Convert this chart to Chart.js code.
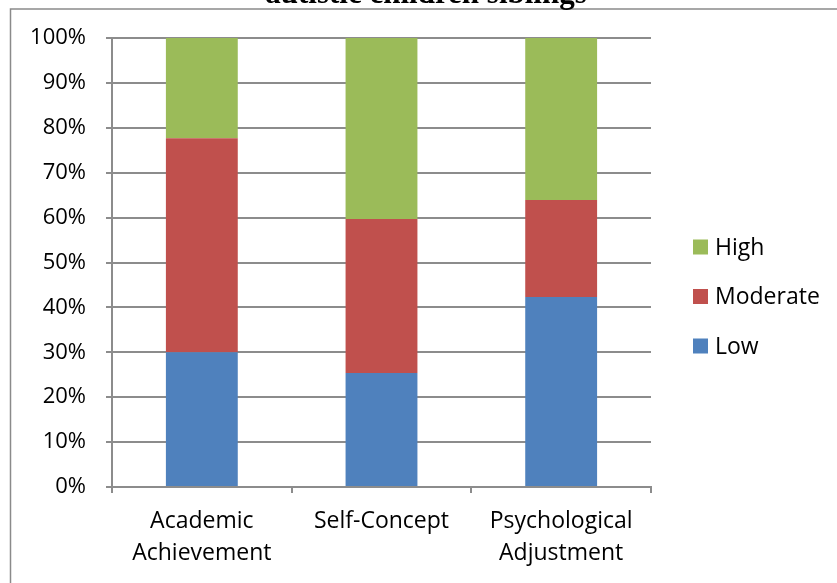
<!DOCTYPE html>
<html>
<head>
<meta charset="utf-8">
<script src="https://cdn.jsdelivr.net/npm/chart.js@4.4.0/dist/chart.umd.min.js"></script>
<style>
  html, body { margin: 0; padding: 0; background: #fff; }
  #wrap { width: 837px; height: 583px; }
</style>
</head>
<body>
<div id="wrap"><canvas id="chart" width="837" height="583"></canvas></div>
<script>
// ===== DATA =====
const categories   = [['Academic', 'Achievement'], 'Self-Concept', ['Psychological', 'Adjustment']];
const seriesNames  = ['Low', 'Moderate', 'High'];
const lowVals      = [30.0, 25.4, 42.3];
const moderateVals = [47.7, 34.3, 21.6];
const highVals     = [22.3, 40.3, 36.1];
const yTickMax     = 100;
const yTickStep    = 10;
const titleText    = 'autistic children siblings';

const COLORS = ['#4F81BD', '#C0504D', '#9BBB59'];
const GRID = '#8c8c8c';
const FONT = "'Open Sans', sans-serif";

// frame + clipped title from the source document
const framePlugin = {
  id: 'frame',
  beforeDraw(chart) {
    const ctx = chart.ctx;
    ctx.save();
    ctx.fillStyle = '#fff';
    ctx.fillRect(0, 0, chart.width, chart.height);
    ctx.strokeStyle = '#8a8a8a';
    ctx.lineWidth = 1.5;
    ctx.beginPath();
    ctx.moveTo(10.5, chart.height);
    ctx.lineTo(10.5, 9);
    ctx.lineTo(chart.width, 9);
    ctx.stroke();
    ctx.fillStyle = '#000';
    ctx.font = 'bold 31px "Liberation Serif", serif';
    ctx.textAlign = 'center';
    ctx.textBaseline = 'alphabetic';
    ctx.fillText(titleText, 426, 2.5);
    ctx.restore();
  }
};

// legend on the right, top to bottom High / Moderate / Low
const legendPlugin = {
  id: 'sideLegend',
  afterDraw(chart) {
    const ctx = chart.ctx;
    const ds = chart.data.datasets.slice().reverse();
    ctx.save();
    ctx.font = '23px ' + FONT;
    ctx.textAlign = 'left';
    ctx.textBaseline = 'middle';
    ds.forEach((d, i) => {
      const y = 247 + i * 49.5;
      ctx.fillStyle = d.backgroundColor;
      ctx.fillRect(693, y - 7.5, 15, 15);
      ctx.fillStyle = '#000';
      ctx.fillText(d.label, 715, y + 1);
    });
    ctx.restore();
  }
};

new Chart(document.getElementById('chart'), {
  type: 'bar',
  data: {
    labels: categories,
    datasets: [
      { label: seriesNames[0], data: lowVals,      backgroundColor: COLORS[0] },
      { label: seriesNames[1], data: moderateVals, backgroundColor: COLORS[1] },
      { label: seriesNames[2], data: highVals,     backgroundColor: COLORS[2] },
    ]
  },
  options: {
    responsive: false,
    animation: false,
    devicePixelRatio: 1,
    layout: { padding: { top: 38, right: 186, left: 0, bottom: 0 } },
    datasets: { bar: { barPercentage: 0.4, categoryPercentage: 1.0, borderWidth: 0 } },
    plugins: { legend: { display: false }, tooltip: { enabled: false }, title: { display: false } },
    scales: {
      x: {
        stacked: true,
        grid: { display: true, drawOnChartArea: false, offset: true, tickLength: 6, color: GRID, lineWidth: 2 },
        border: { color: GRID, width: 2 },
        ticks: { color: '#000', font: { family: FONT, size: 23, lineHeight: 1.4 }, padding: 12, maxRotation: 0, autoSkip: false },
        afterFit: s => { s.height = 96; }
      },
      y: {
        stacked: true,
        min: 0,
        max: yTickMax,
        grid: { color: GRID, lineWidth: 2, tickLength: 6 },
        border: { color: GRID, width: 2 },
        ticks: { stepSize: yTickStep, color: '#000', font: { family: FONT, size: 22 }, padding: 20, callback: v => v + '%' },
        afterFit: s => { s.width = 112; }
      }
    }
  },
  plugins: [framePlugin, legendPlugin]
});
</script>
</body>
</html>
